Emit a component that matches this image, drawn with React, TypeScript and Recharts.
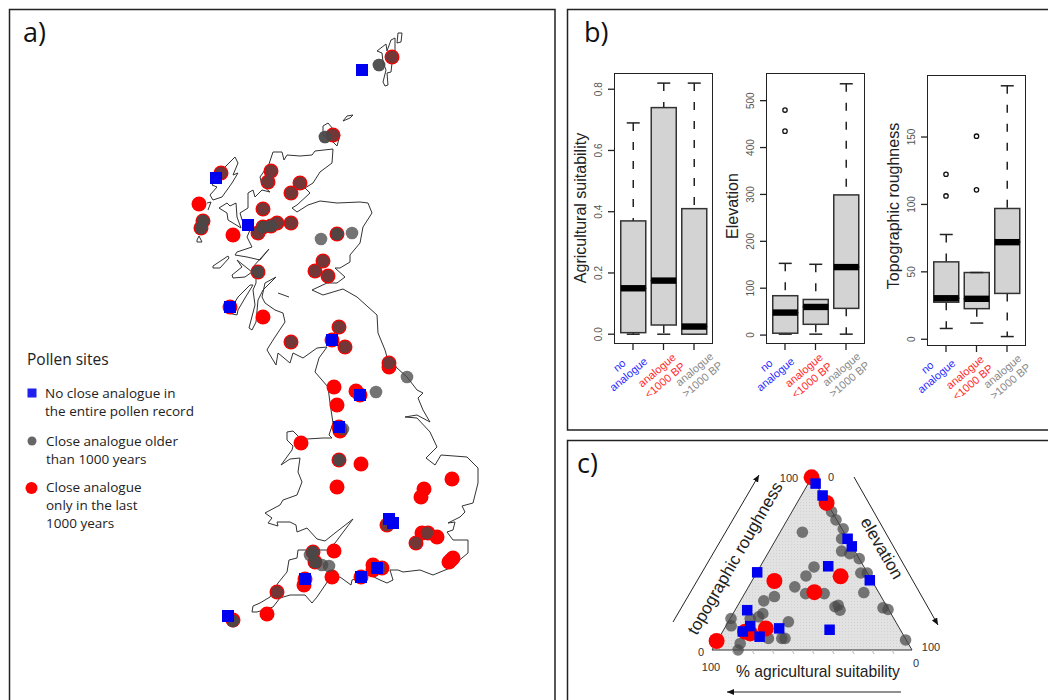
import { ComposedChart, Area, Bar, Line, Scatter, XAxis, YAxis } from 'recharts';

// map coastlines, traced in map units
const MAINLAND = [
  [269,164],[273,152],[282,152],[284,160],[287,155],[300,156],[312,155],[315,151],[333,149],[332,163],[320,172],[313,183],[305,188],[310,193],[297,205],[292,208],[297,212],[308,205],[320,201],[337,203],[360,202],[368,203],[372,213],[363,227],[360,243],[350,255],[350,262],[340,268],[335,268],[345,277],[337,283],[327,283],[312,290],[323,295],[343,289],[357,297],[377,315],[378,333],[385,350],[387,357],[397,368],[407,377],[417,390],[423,393],[418,398],[423,410],[430,422],[417,415],[405,417],[417,418],[430,432],[437,447],[426,458],[435,465],[441,455],[467,457],[478,468],[478,483],[473,503],[462,506],[465,512],[460,517],[448,523],[455,522],[453,530],[447,532],[453,540],[468,540],[468,553],[450,568],[433,575],[420,570],[403,572],[398,570],[390,570],[393,580],[387,583],[380,580],[370,575],[352,580],[351,585],[340,577],[330,578],[317,597],[312,603],[305,595],[290,595],[280,598],[273,607],[257,612],[252,612],[253,606],[260,603],[270,597],[278,583],[287,572],[289,560],[297,558],[298,550],[327,550],[335,543],[347,527],[353,519],[335,533],[325,541],[317,539],[307,528],[297,532],[296,525],[290,522],[277,522],[278,526],[268,523],[272,518],[265,513],[280,505],[283,500],[297,495],[302,482],[298,472],[300,458],[290,459],[281,465],[292,450],[293,446],[287,440],[287,432],[293,431],[300,438],[307,439],[323,438],[332,438],[329,435],[333,423],[330,403],[328,387],[315,372],[319,358],[327,347],[317,348],[303,358],[293,353],[290,363],[278,353],[276,365],[273,360],[267,350],[268,348],[275,337],[285,322],[283,313],[275,310],[265,303],[262,297],[265,283],[276,277],[263,290],[258,300],[256,322],[252,330],[249,328],[255,305],[253,290],[256,283],[256,277],[252,268],[269,249],[260,260],[247,257],[235,255],[237,252],[252,247],[247,237],[250,230],[243,223],[240,213],[248,208],[248,193],[253,190],[255,197],[262,190],[270,192],[262,185],[260,177],[269,164],
];
const ISLANDS = [
  [[398,33],[402,33],[401,42],[397,43],[398,33]],
  [[377,51],[386,44],[387,51],[391,40],[395,38],[395,51],[392,63],[391,72],[387,73],[388,85],[385,86],[383,82],[386,70],[383,62],[382,53],[377,51]],
  [[343,121],[347,116],[353,115],[350,118],[343,121]],
  [[323,135],[323,126],[328,123],[333,129],[340,135],[337,146],[333,142],[323,135]],
  [[219,208],[227,203],[230,206],[236,203],[237,217],[241,228],[233,223],[228,220],[227,213],[219,208]],
  [[235,157],[238,163],[233,175],[238,173],[232,183],[222,197],[213,200],[210,195],[217,187],[212,185],[225,167],[235,157]],
  [[197,240],[199,236],[202,242],[197,242],[197,240]],
  [[207,203],[211,202],[208,210]],
  [[213,266],[228,256],[229,258],[220,268],[213,268],[213,266]],
  [[232,275],[242,267],[237,260],[252,272],[245,277],[233,278],[232,275]],
  [[238,297],[250,285],[253,285],[245,298],[238,310],[237,315],[228,313],[232,307],[238,297]],
  [[278,293],[289,297]],
];

// pollen sites on the map
const SITES_RED = [
  [392,57],[333,135],[221,173],[271,171],[268,182],[300,183],[291,193],[199,204],[203,221],[201,228],[263,209],[233,235],[258,233],[263,227],[271,226],[277,223],[291,223],[337,234],[323,261],[315,271],[328,276],[258,272],[230,307],[263,317],[291,342],[339,327],[332,340],[345,347],[389,363],[389,367],[334,387],[356,391],[360,395],[337,405],[339,427],[340,431],[301,443],[339,460],[361,464],[337,487],[452,479],[424,489],[421,497],[387,525],[422,533],[428,533],[437,537],[416,543],[453,558],[449,562],[451,560],[334,551],[313,552],[315,562],[332,577],[305,579],[304,585],[277,592],[267,614],[233,620],[373,565],[382,568],[373,570],[361,577],
];
const SITES_GREY = [
  [392,57],[379,65],[379,65],[333,135],[325,137],[325,137],[221,173],[271,171],[268,182],[300,183],[291,193],[203,221],[203,221],[201,228],[201,228],[263,209],[258,233],[263,227],[263,227],[271,226],[271,226],[277,223],[291,223],[321,239],[337,234],[337,234],[352,233],[323,261],[315,271],[328,276],[258,272],[258,272],[291,342],[339,327],[345,347],[389,363],[407,377],[376,392],[343,429],[339,460],[339,460],[387,525],[427,533],[416,543],[313,552],[313,552],[310,555],[315,562],[315,562],[322,565],[329,566],[277,592],[233,621],[233,621],[380,568],
];
const SITES_BLUE = [
  [362,70],[216,178],[248,225],[230,307],[332,340],[360,395],[339,427],[389,519],[393,523],[377,568],[361,577],[305,579],[228,616],
];

// ternary plot, position in the triangle (x along base, y height, 0-100)
const TRIANGLE = [[0,0],[50,100],[100,0],[0,0]];
const TERN_TICKS = [10,20,30,40,50,60,70,80,90];
const TERN_GREY = [
  [59.8,80],[62,75.2],[65.6,70.1],[45.2,68.1],[64.8,64.3],[64.8,57.2],[68.9,55.7],[73.6,52.8],[51,48],[47,42.8],[74.4,44.5],[77.6,44.5],[75.9,33.2],[41.4,36.5],[46.8,32.6],[56.1,32.6],[63.1,25.9],[61.5,25],[64,23],[85.5,24.4],[88,23.4],[31.2,30.9],[25.9,28.4],[25.4,21.1],[23.3,19.2],[19.1,18.2],[9.5,18.2],[9.6,14],[38.2,16.3],[36.5,6.7],[34.9,6.7],[28.2,6.7],[14.1,3.8],[13,0],[96.8,5.8],
];
const TERN_RED = [[49.8,99.8],[57.3,85],[31.2,39.9],[64.3,42.6],[51.2,33.4],[26.9,12.5],[19.1,9.6],[16.6,10.6],[2.3,5.2]];
const TERN_BLUE = [[51.8,96.2],[55.3,89.3],[67.8,64.3],[69.9,59.9],[58.1,48.4],[78.9,40.3],[22.6,44.9],[17.6,23],[19.1,13.8],[15.4,10.7],[23.8,7.7],[33.6,12.5],[58.8,11.7]];

// boxplots: no analogue, analogue <1000, analogue >1000
const AGRI_MIN = [0, 0, 0];
const AGRI_Q1 = [0.005, 0.03, 0];
const AGRI_MED = [0.15, 0.175, 0.025];
const AGRI_Q3 = [0.37, 0.74, 0.41];
const AGRI_MAX = [0.69, 0.82, 0.82];

const ELEV_MIN = [2, 2, 2];
const ELEV_Q1 = [4, 23, 57];
const ELEV_MED = [48, 60, 145];
const ELEV_Q3 = [84, 76, 299];
const ELEV_MAX = [153, 151, 536];
const ELEV_OUT1 = [480, null, null];
const ELEV_OUT2 = [435, null, null];

const ROUGH_MIN = [8, 12, 2];
const ROUGH_Q1 = [27.5, 22.7, 34];
const ROUGH_MED = [30.4, 30, 72];
const ROUGH_Q3 = [57.4, 49.5, 97];
const ROUGH_MAX = [77.7, 49.5, 188];
const ROUGH_OUT1 = [122.4, 150.6, null];
const ROUGH_OUT2 = [106.3, 110.8, null];

const CAT_LINES = [['no', 'analogue'], ['analogue', '<1000 BP'], ['analogue', '>1000 BP']];
const CAT_COLORS = ['#2a2aff', '#ff2a2a', '#8a8a8a'];
const CAT_OFFSETS = [[-13, 22, -4, 31], [-6, 27, 2, 37], [1, 26, 9, 36]];

const ARIAL = '"Liberation Sans", Arial, sans-serif';
const OPEN = '"Open Sans", sans-serif';
const pts = (a: number[][]) => a.map(([x, y]) => ({ x, y }));
const noMark = () => <g />;

const redDot = (r: number) => (p: any) => <circle cx={p.cx} cy={p.cy} r={r} fill="#ff0000" />;
const greyDot = (r: number, o: number) => (p: any) => <circle cx={p.cx} cy={p.cy} r={r} fill="#484848" fillOpacity={o} />;
const blueSquare = (s: number) => (p: any) => <rect x={p.cx - s / 2} y={p.cy - s / 2} width={s} height={s} fill="#0000f0" />;

function MapPanel() {
  return (
    <div style={{ position: 'absolute', left: 0, top: 0 }}>
      <ComposedChart width={556} height={700} margin={{ top: 0, right: 0, bottom: 0, left: 0 }}>
        <XAxis type="number" dataKey="x" domain={[0, 556]} hide />
        <YAxis type="number" dataKey="y" domain={[0, 700]} reversed hide />
        <Scatter data={pts(MAINLAND)} line={{ stroke: '#333', strokeWidth: 1 }} shape={noMark} isAnimationActive={false} />
        {ISLANDS.map((isl, i) => (
          <Scatter key={i} data={pts(isl)} line={{ stroke: '#333', strokeWidth: 1 }} shape={noMark} isAnimationActive={false} />
        ))}
        <Scatter data={pts(SITES_RED)} shape={redDot(7.5)} isAnimationActive={false} />
        <Scatter data={pts(SITES_GREY)} shape={greyDot(6.3, 0.76)} isAnimationActive={false} />
        <Scatter data={pts(SITES_BLUE)} shape={blueSquare(12)} isAnimationActive={false} />
      </ComposedChart>
    </div>
  );
}

function TernaryPanel() {
  return (
    <div style={{ position: 'absolute', left: 692, top: 457 }}>
      <ComposedChart width={240} height={213} margin={{ top: 20, right: 20, bottom: 20, left: 20 }}>
        <defs>
          <pattern id="ternDots" width="3" height="3" patternUnits="userSpaceOnUse">
            <rect width="3" height="3" fill="#e2e2e2" />
            <rect width="1" height="1" fill="#d2d2d2" />
          </pattern>
        </defs>
        <XAxis type="number" dataKey="x" domain={[0, 100]} hide />
        <YAxis type="number" dataKey="y" domain={[0, 100]} hide />
        <Area data={pts(TRIANGLE.slice(0, 3))} dataKey="y" type="linear" fill="url(#ternDots)" fillOpacity={1} stroke="none" isAnimationActive={false} />
        <Scatter data={pts(TRIANGLE)} line={{ stroke: '#333', strokeWidth: 1 }} shape={noMark} isAnimationActive={false} />
        <Scatter data={pts(TERN_GREY)} shape={greyDot(5.8, 0.72)} isAnimationActive={false} />
        <Scatter data={pts(TERN_RED)} shape={redDot(8)} isAnimationActive={false} />
        <Scatter data={pts(TERN_BLUE)} shape={blueSquare(10.5)} isAnimationActive={false} />
      </ComposedChart>
    </div>
  );
}

const lowWhisker = (p: any) => {
  const cx = p.x + p.width / 2;
  return (
    <g stroke="#222" strokeWidth={1.5}>
      <line x1={cx} x2={cx} y1={p.y} y2={p.y + p.height} strokeDasharray="8 11" />
      <line x1={cx - 6.5} x2={cx + 6.5} y1={p.y + p.height} y2={p.y + p.height} />
    </g>
  );
};
const highWhisker = (p: any) => {
  const cx = p.x + p.width / 2;
  return (
    <g stroke="#222" strokeWidth={1.5}>
      <line x1={cx} x2={cx} y1={p.y} y2={p.y + p.height} strokeDasharray="8 11" />
      <line x1={cx - 6.5} x2={cx + 6.5} y1={p.y} y2={p.y} />
    </g>
  );
};
const lowerBox = (p: any) => <rect x={p.x} y={p.y} width={p.width} height={p.height} fill="#d3d3d3" stroke="#333" strokeWidth={1.5} />;
const upperBox = (p: any) => (
  <g>
    <rect x={p.x} y={p.y} width={p.width} height={p.height} fill="#d3d3d3" stroke="#333" strokeWidth={1.5} />
    <rect x={p.x} y={p.y + p.height - 3.2} width={p.width} height={6.4} fill="#000" />
  </g>
);

function BoxPanel(props: any) {
  const { left, top, w, h, domain, ticks, fmt, mins, q1, med, q3, maxs, out1, out2, shift } = props;
  const rows = CAT_LINES.map((_, i) => ({
    cat: i,
    base: mins[i],
    low: q1[i] - mins[i],
    lower: med[i] - q1[i],
    upper: q3[i] - med[i],
    high: maxs[i] - q3[i],
    out1: out1 ? out1[i] : null,
    out2: out2 ? out2[i] : null,
  }));
  const pad = (w - 91.5) / 2;
  const renderXTick = (t: any) => {
    const off = CAT_OFFSETS[t.index];
    const lines = CAT_LINES[t.index];
    return (
      <g fontFamily={ARIAL} fontSize={11} fill={CAT_COLORS[t.index]} textAnchor="middle" dominantBaseline="middle">
        <text transform={`translate(${t.x + off[0] + shift},${t.y - 6 + off[1]}) rotate(-40)`}>{lines[0]}</text>
        <text transform={`translate(${t.x + off[2] + shift},${t.y - 6 + off[3]}) rotate(-40)`}>{lines[1]}</text>
      </g>
    );
  };
  const renderYTick = (t: any) => (
    <text transform={`translate(${t.x - 6},${t.y}) rotate(-90)`} fontFamily={ARIAL} fontSize={10} fill="#555" textAnchor="middle">
      {fmt(t.payload.value)}
    </text>
  );
  return (
    <div style={{ position: 'absolute', left: left - 40, top: top - 5 }}>
      <ComposedChart width={w + 70} height={h + 75} data={rows} margin={{ top: 5, right: 30, bottom: 0, left: 0 }} barCategoryGap={0}>
        <XAxis dataKey="cat" type="category" height={70} padding={{ left: pad, right: pad }} axisLine={false} tickSize={6} tickMargin={0} tickLine={{ stroke: '#222', strokeWidth: 1.3 }} interval={0} tick={renderXTick} />
        <YAxis type="number" width={40} domain={domain} ticks={ticks} axisLine={false} tickSize={6} tickMargin={0} tickLine={{ stroke: '#222', strokeWidth: 1.3 }} interval={0} tick={renderYTick} allowDataOverflow />
        <Bar dataKey="base" stackId="box" barSize={25} fill="none" isAnimationActive={false} />
        <Bar dataKey="low" stackId="box" barSize={25} shape={lowWhisker} isAnimationActive={false} />
        <Bar dataKey="lower" stackId="box" barSize={25} shape={lowerBox} isAnimationActive={false} />
        <Bar dataKey="upper" stackId="box" barSize={25} shape={upperBox} isAnimationActive={false} />
        <Bar dataKey="high" stackId="box" barSize={25} shape={highWhisker} isAnimationActive={false} />
        <Line dataKey="out1" stroke="none" dot={{ r: 2.2, fill: '#fff', stroke: '#111', strokeWidth: 1.3 }} isAnimationActive={false} />
        <Line dataKey="out2" stroke="none" dot={{ r: 2.2, fill: '#fff', stroke: '#111', strokeWidth: 1.3 }} isAnimationActive={false} />
      </ComposedChart>
      <div style={{ position: 'absolute', left: 40, top: 5, width: w, height: h, border: '1.5px solid #222', boxSizing: 'border-box', pointerEvents: 'none' }} />
    </div>
  );
}

function Annotations() {
  return (
    <svg width={1048} height={700} style={{ position: 'absolute', left: 0, top: 0, pointerEvents: 'none' }}>
      <defs>
        <marker id="arrowHead" markerWidth="8" markerHeight="8" refX="7" refY="3" orient="auto">
          <path d="M0,0 L7,3 L0,6 Z" fill="#111" />
        </marker>
      </defs>
      <g fill="none" stroke="#222" strokeWidth={1.5}>
        <path d="M9.5,710 V9.5 H555 V710" />
        <path d="M1060,9.5 H567.5 V430 H1060" />
        <path d="M1060,440.5 H567.5 V710" />
      </g>
      <g fontFamily={OPEN} fontSize={27} fill="#111">
        <text x={23} y={42}>a)</text>
        <text x={584} y={42}>b)</text>
        <text x={577} y={473}>c)</text>
      </g>
      <g fontFamily={OPEN} fill="#222">
        <text x={27} y={365} fontSize={15.5}>Pollen sites</text>
        <g fontSize={13.5}>
          <text x={45} y={398}>No close analogue in</text>
          <text x={45} y={416}>the entire pollen record</text>
          <text x={46} y={446}>Close analogue older</text>
          <text x={46} y={464}>than 1000 years</text>
          <text x={46} y={492}>Close analogue</text>
          <text x={46} y={510}>only in the last</text>
          <text x={46} y={528}>1000 years</text>
        </g>
      </g>
      <rect x={27.5} y={388.5} width={9} height={9} fill="#1f1ff0" />
      <circle cx={32} cy={441} r={4.5} fill="#666" />
      <circle cx={31.5} cy={488} r={6} fill="#ff0000" />
      <g fontFamily={ARIAL} fontSize={16} fill="#222" textAnchor="middle">
        <text transform="translate(586,208) rotate(-90)">Agricultural suitability</text>
        <text transform="translate(738,206) rotate(-90)">Elevation</text>
        <text transform="translate(899,206) rotate(-90)">Topographic roughness</text>
      </g>
      <g fontFamily={ARIAL} fontSize={17} fill="#222" textAnchor="middle">
        <text transform="translate(740,561) rotate(-60)">topographic roughness</text>
        <text transform="translate(877,551) rotate(60)">elevation</text>
      </g>
      <text x={818} y={677} fontFamily={ARIAL} fontSize={15.7} fill="#222" textAnchor="middle">% agricultural suitability</text>
      <g fontFamily={ARIAL} fontSize={11} fill="#333" textAnchor="middle">
        <text x={789} y={482}>100</text>
        <text x={831} y={481}>0</text>
        <text x={701} y={656}>0</text>
        <text x={711} y={671}>100</text>
        <text x={931} y={651}>100</text>
        <text x={916} y={667}>0</text>
      </g>
      <g stroke="#bbb" strokeWidth={1}>
        {TERN_TICKS.map((t) => (
          <line key={t} x1={712 + 2 * t} y1={650} x2={714 + 2 * t} y2={654} />
        ))}
      </g>
      <g stroke="#222" strokeWidth={1} markerEnd="url(#arrowHead)">
        <line x1={673} y1={622} x2={759} y2={475} />
        <line x1={854} y1={477} x2={938} y2={625} />
        <line x1={901} y1={692} x2={727} y2={692} />
      </g>
    </svg>
  );
}

export default function App() {
  return (
    <div style={{ position: 'fixed', left: 0, top: 0, width: 1048, height: 700, overflow: 'hidden', background: '#fff' }}>
      <MapPanel />
      <BoxPanel left={614} top={73} w={99} h={271} domain={[-0.032, 0.853]} ticks={[0, 0.2, 0.4, 0.6, 0.8]} fmt={(v: number) => v.toFixed(1)}
        mins={AGRI_MIN} q1={AGRI_Q1} med={AGRI_MED} q3={AGRI_Q3} maxs={AGRI_MAX} shift={0} />
      <BoxPanel left={766} top={73} w={99} h={271} domain={[-19, 559]} ticks={[0, 100, 200, 300, 400, 500]} fmt={String}
        mins={ELEV_MIN} q1={ELEV_Q1} med={ELEV_MED} q3={ELEV_Q3} maxs={ELEV_MAX} out1={ELEV_OUT1} out2={ELEV_OUT2} shift={-5} />
      <BoxPanel left={927} top={75} w={99} h={271} domain={[-5, 196]} ticks={[0, 50, 100, 150]} fmt={String}
        mins={ROUGH_MIN} q1={ROUGH_Q1} med={ROUGH_MED} q3={ROUGH_Q3} maxs={ROUGH_MAX} out1={ROUGH_OUT1} out2={ROUGH_OUT2} shift={-5} />
      <TernaryPanel />
      <Annotations />
    </div>
  );
}
